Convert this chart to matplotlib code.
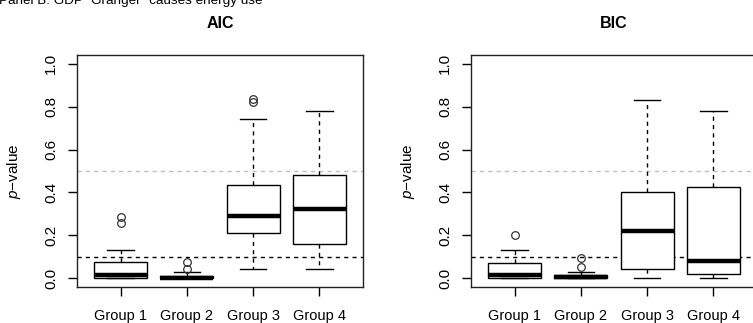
import matplotlib
matplotlib.use("Agg")
import matplotlib.pyplot as plt

plt.rcParams["font.family"] = ["Liberation Sans", "DejaVu Sans"]
plt.rcParams["mathtext.fontset"] = "custom"
plt.rcParams["mathtext.rm"] = "Liberation Sans"
plt.rcParams["mathtext.it"] = "Liberation Sans:italic"

# p-values of the Granger test, summarised per group (AIC / BIC lag selection)
groups = ["Group 1", "Group 2", "Group 3", "Group 4"]

aic_q1 = [0.000, 0.000, 0.213, 0.160]
aic_med = [0.016, 0.003, 0.289, 0.323]
aic_q3 = [0.075, 0.012, 0.437, 0.482]
aic_lo = [0.000, 0.000, 0.045, 0.045]
aic_hi = [0.132, 0.031, 0.740, 0.781]
aic_out = [[0.257, 0.288], [0.044, 0.078], [0.821, 0.837], []]

bic_q1 = [0.000, 0.000, 0.044, 0.020]
bic_med = [0.017, 0.008, 0.222, 0.081]
bic_q3 = [0.070, 0.017, 0.401, 0.426]
bic_lo = [0.000, 0.000, 0.003, 0.003]
bic_hi = [0.132, 0.031, 0.832, 0.781]
bic_out = [[0.202], [0.051, 0.095], [], []]

alpha_line = 0.1
half_line = 0.5


def make_stats(q1, med, q3, lo, hi, out):
    stats = []
    for i in range(len(groups)):
        stats.append({"q1": q1[i], "med": med[i], "q3": q3[i],
                      "whislo": lo[i], "whishi": hi[i], "fliers": out[i]})
    return stats


def draw_panel(ax, stats, title):
    ax.axhline(alpha_line, color="black", lw=1.0, ls=(0, (3, 3)), zorder=1)
    ax.axhline(half_line, color="#BEBEBE", lw=1.0, ls=(0, (3, 3)), zorder=1)
    ax.bxp(stats, positions=range(1, len(groups) + 1), widths=0.8,
           patch_artist=True, manage_ticks=False,
           boxprops=dict(facecolor="white", edgecolor="black", lw=1.0),
           medianprops=dict(color="black", lw=3.2, solid_capstyle="butt"),
           whiskerprops=dict(color="black", lw=1.0, ls=(0, (3, 3))),
           capprops=dict(color="black", lw=1.0),
           flierprops=dict(marker="o", markerfacecolor="none",
                           markeredgecolor="#333333", markersize=5.5,
                           markeredgewidth=0.9),
           zorder=2)
    ax.set_xlim(0.34, 4.66)
    ax.set_ylim(-0.04, 1.04)
    ax.set_xticks(range(1, len(groups) + 1))
    ax.set_xticklabels(groups, fontsize=10.5)
    ax.set_yticks([0.0, 0.2, 0.4, 0.6, 0.8, 1.0])
    ax.set_yticklabels(["0.0", "0.2", "0.4", "0.6", "0.8", "1.0"],
                       rotation=90, va="center", fontsize=11)
    ax.tick_params(axis="x", length=6.5, width=1.0, pad=9)
    ax.tick_params(axis="y", length=6.5, width=1.0, pad=7)
    for sp in ax.spines.values():
        sp.set_linewidth(1.0)
        sp.set_color("#222222")
    ax.set_ylabel(r"$\it{p}$" + "\u2212value", fontsize=11)
    ax.yaxis.set_label_coords(-54 / 286, 0.5)
    # titles sit well above the box, as in base R graphics
    ax.set_title(title, fontsize=11.5, fontweight="bold", y=1 + 27 / 232, pad=0)


fig = plt.figure(figsize=(7.53, 3.23), dpi=100)
ax1 = fig.add_axes([77 / 753, 36 / 323, 286 / 753, 232 / 323])
ax2 = fig.add_axes([471 / 753, 36 / 323, 286 / 753, 232 / 323])

draw_panel(ax1, make_stats(aic_q1, aic_med, aic_q3, aic_lo, aic_hi, aic_out), "AIC")
draw_panel(ax2, make_stats(bic_q1, bic_med, bic_q3, bic_lo, bic_hi, bic_out), "BIC")

fig.text(-0.001, 1 - 4 / 323, "Panel B: GDP \"Granger\" causes energy use",
         fontsize=9.7, ha="left", va="baseline")

fig.savefig("out.png", dpi=100)
